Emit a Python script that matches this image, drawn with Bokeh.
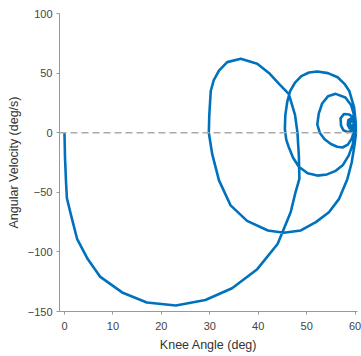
from bokeh.plotting import figure
from bokeh.models import Range1d, Span, FixedTicker
from bokeh.embed import file_html
from bokeh.resources import INLINE

# Knee angle (deg) and angular velocity (deg/s)
knee_angle = [
    0.0, 0.1, 0.3, 0.5, 1.4, 2.6, 4.8, 7.4, 11.9, 17.0, 23.0, 29.1, 34.6, 39.8,
    44.0, 46.7, 47.7, 48.5, 48.4, 48.1,
    47.6, 46.3, 44.3, 42.4, 39.8, 36.4, 33.6, 31.9, 30.8, 30.2, 29.9, 29.8,
    30.5, 31.9, 34.3, 37.7, 42.0, 45.3, 48.8, 51.9, 54.6, 56.7, 58.4, 59.3,
    59.9, 60.2,
    60.1, 59.8, 58.8, 57.8, 56.4, 54.4, 52.2, 50.5, 48.9, 47.6, 46.6, 46.0,
    45.6, 45.5,
    45.8, 46.3, 47.2, 48.4, 50.2, 52.2, 54.2, 56.0, 57.5, 58.7, 59.5, 59.9,
    59.9, 59.7, 59.2, 58.0, 56.0, 54.4, 53.2, 52.5, 52.2, 52.7, 53.7, 55.0,
    56.3, 57.4, 58.5, 59.3, 59.7,
    59.9, 59.7, 58.8, 57.7, 57.0, 57.1, 57.6, 58.5, 59.5,
    59.9, 59.7, 59.2, 58.6, 58.5, 58.9, 59.5, 59.8, 59.6, 59.1, 58.9, 59.2,
    59.6, 59.5,
]
angular_velocity = [
    0.0, -20.0, -40.0, -55.0, -70.0, -89.0, -106.0, -121.0, -134.0, -142.5,
    -145.0, -140.3, -130.5, -114.5, -93.4, -66.7, -50.0, -38.7, -20.0, 0.0,
    15.0, 32.6, 41.0, 49.4, 57.8, 62.0, 59.2, 52.0, 43.8, 35.0, 15.0, 0.0,
    -18.0, -40.0, -61.0, -74.0, -82.0, -84.0, -82.0, -75.0, -66.7, -55.5,
    -39.0, -25.0, -10.0, 0.0,
    10.0, 21.3, 35.0, 41.0, 46.5, 50.0, 51.3, 50.5, 47.5, 42.0, 35.0, 26.0,
    15.0, 3.0,
    -6.0, -12.0, -21.0, -28.5, -34.0, -36.0, -35.0, -32.0, -27.0, -19.0,
    -10.0, 0.0,
    8.0, 16.0, 23.0, 29.5, 32.6, 30.5, 24.5, 16.0, 7.0, 0.0, -5.5, -9.5,
    -11.8, -12.4, -10.0, -5.0, 0.0,
    7.0, 12.5, 15.3, 15.7, 12.0, 6.0, 2.0, 0.5, 2.0,
    6.0, 10.0, 12.0, 10.5, 6.5, 3.5, 3.5, 6.5, 9.5, 9.5, 7.0, 5.0,
    5.5, 7.5,
]

x_ticks = [0, 10, 20, 30, 40, 50, 60]
y_ticks = [-150, -100, -50, 0, 50, 100]

p = figure(width=361, height=356, output_backend="svg", toolbar_location=None,
           x_range=Range1d(-1.03, 60.5), y_range=Range1d(-150, 100),
           min_border_left=59, min_border_right=4, min_border_top=13,
           min_border_bottom=45)
p.outline_line_color = None
p.xgrid.visible = False
p.ygrid.visible = False
p.background_fill_color = "white"
p.border_fill_color = "white"

zero = Span(location=0, dimension="width", line_color="#aaaaaa",
            line_width=1.5, line_dash="7 4")
p.add_layout(zero)

p.line(knee_angle, angular_velocity, line_color="#0072BD", line_width=2.6,
       line_join="round")

for ax, ticks in ((p.xaxis[0], x_ticks), (p.yaxis[0], y_ticks)):
    ax.ticker = FixedTicker(ticks=ticks)
    ax.axis_line_color = "#999999"
    ax.major_tick_line_color = "#999999"
    ax.major_tick_out = 3
    ax.major_tick_in = 0
    ax.minor_tick_line_color = None
    ax.major_label_text_font = "Liberation Sans"
    ax.major_label_text_font_size = "11px"
    ax.major_label_text_color = "#444444"
    ax.axis_label_text_font = "Liberation Sans"
    ax.axis_label_text_font_size = "12.5px"
    ax.axis_label_text_font_style = "normal"
    ax.axis_label_text_color = "#333333"

p.xaxis.axis_label = "Knee Angle (deg)"
p.yaxis.axis_label = "Angular Velocity (deg/s)"
p.xaxis.major_label_standoff = 7
p.xaxis.axis_label_standoff = 5
p.yaxis.major_label_standoff = 4
p.yaxis.axis_label_standoff = 4

open("out.html", "w").write(file_html(p, INLINE))
